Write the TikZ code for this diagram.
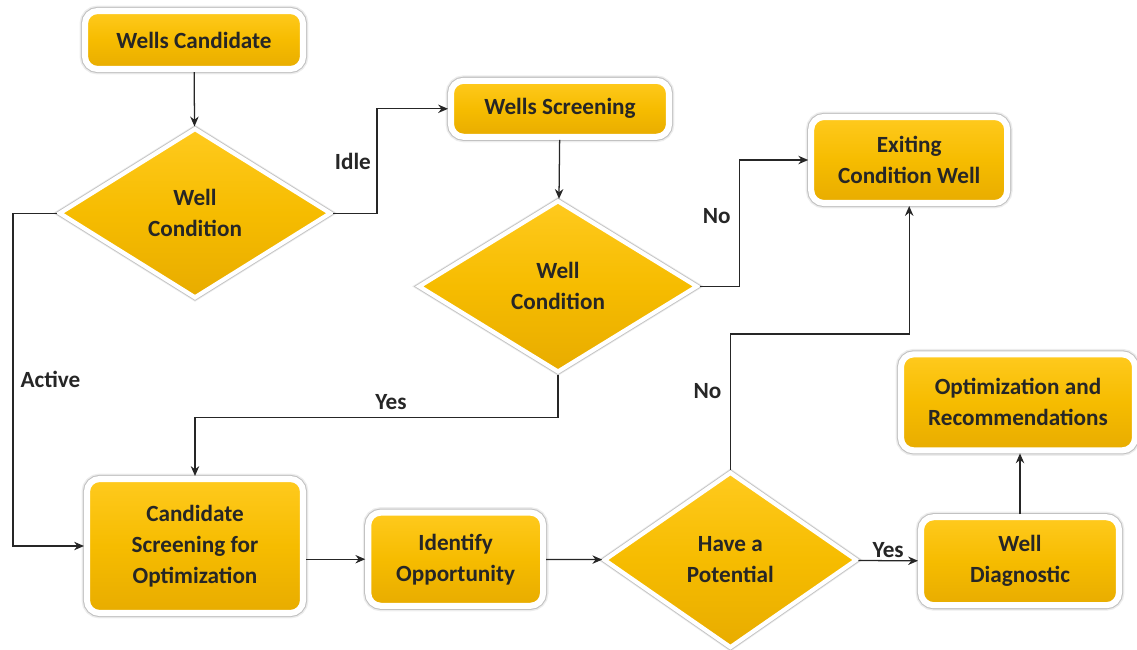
\documentclass[tikz,border=0pt]{standalone}
\usepackage{fontspec}
\setmainfont{Carlito}
\usetikzlibrary{arrows.meta,shapes.geometric,positioning}

\definecolor{goldfill}{RGB}{246,188,0}
\definecolor{goldtop}{RGB}{255,202,30}
\definecolor{goldbot}{RGB}{232,172,0}
\definecolor{inkgray}{RGB}{38,38,38}

\begin{document}
\begin{tikzpicture}[
        >={Stealth[length=7pt,width=6pt]},
        color=inkgray,
        every node/.style={font=\fontsize{16.5}{22}\selectfont\bfseries, text=inkgray, align=center},
        every path/.style={line width=0.9pt},
        rimbox/.style={preaction={draw=black!7, line width=7.8pt},
            preaction={draw=black!24, line width=5.8pt}},
        rimdiam/.style={preaction={draw=black!7, line width=5.4pt},
            preaction={draw=black!24, line width=4.2pt}},
        goldbox/.style={rimbox, draw=white, line width=4.3pt, rounded corners=9pt,
            top color=goldtop, bottom color=goldbot, middle color=goldfill},
        decision/.style={rimdiam, diamond, draw=white, line width=3pt, aspect=1.6,
            top color=goldtop, bottom color=goldbot, middle color=goldfill},
        lbl/.style={inner sep=1pt}
    ]
    \useasboundingbox (0,0) rectangle (28.425,-16.25);

    % Nodes
    \node (cand)[goldbox, minimum width=5.45cm, minimum height=1.45cm] at (4.85,-1.0) {Wells Candidate};

    \node (cond1)[decision, minimum width=6.8cm, minimum height=4.25cm] at (4.875,-5.33) {Well \\ Condition};

    \node (screen)[goldbox, minimum width=5.45cm, minimum height=1.4cm] at (14.0,-2.72) {Wells Screening};

    \node (cond2)[decision, minimum width=6.98cm, minimum height=4.3cm] at (13.95,-7.16) {Well \\ Condition};

    \node (exit)[goldbox, minimum width=4.9cm, minimum height=2.15cm] at (22.73,-4.0) {Exiting \\ Condition Well};

    \node (cso)[goldbox, minimum width=5.4cm, minimum height=3.35cm] at (4.875,-13.65) {Candidate \\ Screening for \\ Optimization};

    \node (ident)[goldbox, minimum width=4.37cm, minimum height=2.33cm, right=1.48cm of cso, yshift=-0.33cm] {Identify \\ Opportunity};

    \node (pot)[decision, minimum width=6.33cm, minimum height=4.4cm] at (18.26,-14.0) {Have a \\ Potential};

    \node (diag)[goldbox, minimum width=4.95cm, minimum height=2.2cm] at (25.5,-14.03) {Well \\ Diagnostic};

    \node (optim)[goldbox, minimum width=5.85cm, minimum height=2.4cm, above=1.52cm of diag, xshift=-0.05cm] {Optimization and \\ Recommendations};

    % Edges
    \draw[->] (cand) -- (cond1);
    \draw[->] (cond1.east) -- ++(1.1,0) |- (screen.west)
        node[lbl, pos=0.25, left=3pt] {Idle};
    \draw[->] (cond1.west) -- ++(-1.1,0) |- (cso.west)
        node[lbl, pos=0.25, right=4pt] {Active};
    \draw[->] (screen) -- (cond2);
    \draw[->] (cond2.east) -- ++(1.0,0) |- (exit.west)
        node[lbl, pos=0.28, left=5pt] {No};
    \draw[->] (cond2.south) -- ++(0,-1.07) -| (cso.north)
        node[lbl, pos=0.23, above=4pt] {Yes};
    \draw[->] (cso.east |- ident) -- (ident);
    \draw[->] (ident) -- (pot);
    \draw[->] (pot.north) -- ++(0,3.4) node[lbl, pos=0.58, left=5pt] {No}
        -| (exit.south);
    \draw[->] (pot) -- (diag)
        node[lbl, midway, above=1pt] {Yes};
    \draw[->] (diag.north) -- (diag.north |- optim.south);

\end{tikzpicture}
\end{document}
